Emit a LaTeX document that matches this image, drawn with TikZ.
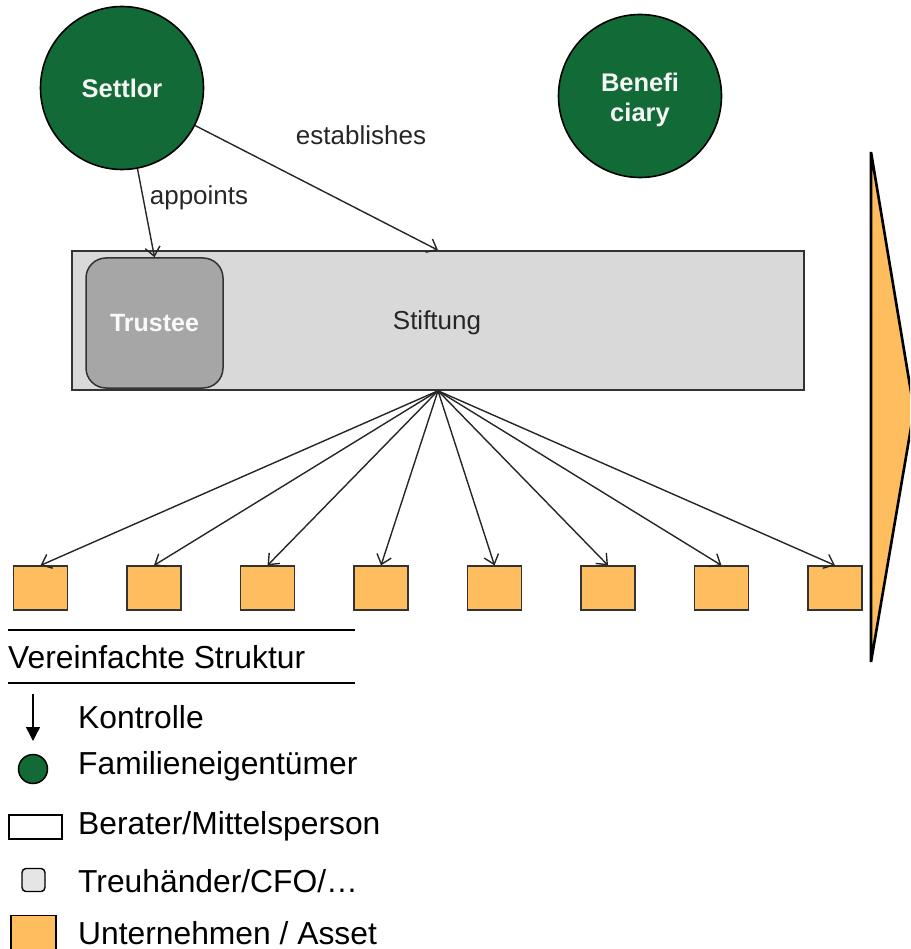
\documentclass[tikz,border=0pt]{standalone}
\usepackage{fontspec}
\setmainfont{Liberation Sans}
\usetikzlibrary{arrows.meta,positioning}
\definecolor{famgreen}{HTML}{126B37}
\definecolor{assetorange}{HTML}{FEBE60}
\definecolor{stiftgray}{HTML}{D9D9D9}
\definecolor{trustgray}{HTML}{A6A6A6}
\definecolor{edgegray}{HTML}{333333}
\tikzset{
  person/.style={circle, draw=black, line width=1.6pt, fill=famgreen, minimum size=163pt,
    inner sep=0pt},
  persontext/.style={inner sep=0pt, text=white!92!gray,
    font=\fontsize{25.5}{30}\selectfont\bfseries, align=center},
  foundation/.style={rectangle, draw=edgegray, line width=1.6pt, fill=stiftgray,
    minimum width=732pt, minimum height=139pt, inner sep=0pt},
  trusteebox/.style={rectangle, rounded corners=20pt, draw=edgegray, line width=1.5pt,
    fill=trustgray, minimum width=137pt, minimum height=130pt, inner sep=0pt,
    text=white!95!gray, font=\fontsize{25}{30}\selectfont\bfseries},
  asset/.style={rectangle, draw=edgegray, line width=1.2pt, fill=assetorange,
    minimum width=54pt, minimum height=44pt, inner sep=0pt},
  ctrl/.style={draw=black!85, line width=1.4pt, -{Straight Barb[length=9pt,width=15pt,line width=1.4pt]}},
  lbl/.style={font=\fontsize{26}{30}\selectfont, text=black!85, inner sep=0pt},
  legtext/.style={font=\fontsize{31.8}{36}\selectfont, anchor=west, inner sep=0pt},
}
\begin{document}
\begin{tikzpicture}[x=1pt,y=-1pt]
  \useasboundingbox (0,0) rectangle (910,949);
  \clip (0,0) rectangle (910,949);

  % owners
  \node[person] (settlor) at (122,88) {};
  \node[persontext] (settlortext) at (122,88) {Settlor};
  \node[person] (benef) at (640,96) {};
  \node[persontext] (beneftext) at (640,100) {Benefi\\ciary};

  % foundation with trustee inside
  \node[foundation] (stiftung) at (438,320.5) {};
  \node[lbl] (stiftlbl) at (437,323) {Stiftung};
  \node[trusteebox] (trustee) at (154.5,323) {Trustee};

  % settlor relations
  \draw[ctrl] (settlor) -- (trustee.north);
  \draw[ctrl] (settlor) -- (stiftung.north);
  \node[lbl] (appoints) at (199,198) {appoints};
  \node[lbl] (establishes) at (361,135) {establishes};

  % companies / assets held by the foundation
  \foreach \i in {0,...,7}{
    \node[asset] (a\i) at ({40.5+113.5*\i},588) {};
    \draw[ctrl] (stiftung.south) -- (a\i.north);
  }

  % bracket triangle on the right
  \draw[line width=2.6pt, line join=miter, fill=assetorange]
    (871,152) -- (914,410) -- (871,662) -- cycle;

  % legend
  \draw[line width=1.4pt] (8,630) -- (355,630);
  \draw[line width=1.4pt] (8,683) -- (355,683);
  \node[legtext, anchor=base west] (legtitle) at (8,668) {Vereinfachte Struktur};

  \coordinate (kfrom) at (33,694);
  \coordinate (kto) at (33,741);
  \draw[line width=1.4pt, -{Triangle[length=14pt,width=14pt]}] (kfrom) -- (kto);
  \node[legtext] (lk) at (78,717) {Kontrolle};

  \node[circle, draw=black, line width=1.5pt, fill=famgreen, minimum size=29pt, inner sep=0pt] (lgc) at (33,769) {};
  \node[legtext] (lf) at (78,766) {Familieneigentümer};

  \node[rectangle, draw=black, line width=1.5pt, fill=white, minimum width=53pt, minimum height=24pt, inner sep=0pt] (lgr) at (35.5,827) {};
  \node[legtext] (lb) at (78,826) {Berater/Mittelsperson};

  \node[rectangle, rounded corners=4pt, draw=black, line width=1.4pt, fill=black!10, minimum width=23pt, minimum height=23pt, inner sep=0pt] (lgt) at (33.5,880) {};
  \node[legtext] (lt) at (78,881) {Treuhänder/CFO/…};

  \node[rectangle, draw=black, line width=1.5pt, fill=assetorange, minimum width=45pt, minimum height=45pt, inner sep=0pt] (lga) at (33.5,938) {};
  \node[legtext] (lu) at (78,933) {Unternehmen / Asset};
\end{tikzpicture}
\end{document}
